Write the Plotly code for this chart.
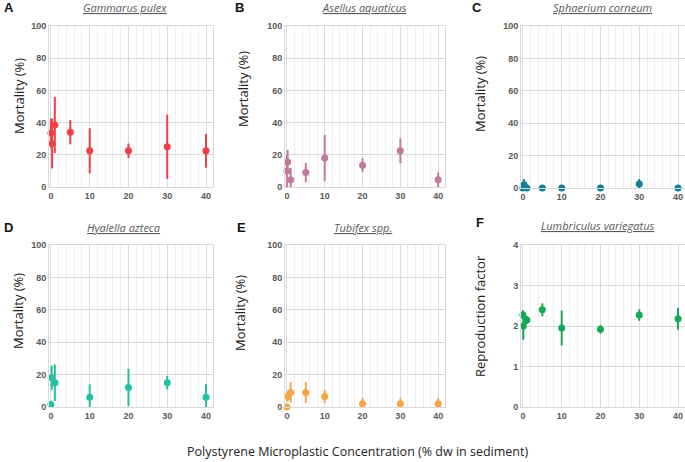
import plotly.graph_objects as go

# panel data: concentration (% dw), mean, error (upper / lower)
gp_x = [0, 0.3, 1, 5, 10, 20, 30, 40]
gp_y = [33.5, 27, 38.5, 34, 22.5, 22.5, 25, 22.5]
gp_e = [9, 15.5, 17.5, 7.5, 14, 4.5, 20, 10.5]

aa_x = [0, 0.2, 1, 5, 10, 20, 30, 40]
aa_y = [10, 15.5, 4.5, 9, 18, 13.5, 22.5, 4.5]
aa_e = [10, 7.5, 7.5, 6, 14.3, 4.3, 7.7, 4.5]

sc_x = [0, 0.3, 1, 5, 10, 20, 30, 40]
sc_y = [0, 2, 0, 0, 0, 0, 2.5, 0]
sc_e = [0, 3.5, 0, 0, 0, 0, 3, 0]

ha_x = [0, 0.2, 1, 10, 20, 30, 40]
ha_y = [1.5, 18, 15, 6, 12, 15, 6]
ha_e = [2.5, 7.5, 11.3, 8, 11.5, 4.2, 8]

tu_x = [0, 0.2, 1, 5, 10, 20, 30, 40]
tu_y = [0, 6.5, 9, 9, 6.5, 2, 2, 2]
tu_e = [0, 3.2, 6.3, 6.5, 4, 3.5, 3.5, 3.5]

lv_x = [0, 0.1, 1, 5, 10, 20, 30, 40]
lv_y = [2.27, 2.0, 2.15, 2.4, 1.95, 1.92, 2.27, 2.18]
lv_e = [0.12, 0.34, 0.1, 0.16, 0.43, 0.11, 0.14, 0.27]

panels = [
    ("A", "Gammarus pulex", gp_x, gp_y, gp_e, "#ef3f47", "Mortality (%)", 100, 20),
    ("B", "Asellus aquaticus", aa_x, aa_y, aa_e, "#c0799c", "Mortality (%)", 100, 20),
    ("C", "Sphaerium corneum", sc_x, sc_y, sc_e, "#117f95", "Mortality (%)", 100, 20),
    ("D", "Hyalella azteca", ha_x, ha_y, ha_e, "#22c1a2", "Mortality (%)", 100, 20),
    ("E", "Tubifex spp.", tu_x, tu_y, tu_e, "#f7a347", "Mortality (%)", 100, 20),
    ("F", "Lumbriculus variegatus", lv_x, lv_y, lv_e, "#16a955", "Reproduction factor", 4, 1),
]

W, H = 685, 462
# plot areas in pixels (left, right, top, bottom)
boxes = [(49, 213, 26, 187), (285, 445, 26, 187), (521, 685, 26, 188),
         (49, 213, 245, 407), (285, 445, 245, 407), (521, 685, 245, 407)]
ytitle_pos = [(19, 96), (243, 89), (480, 94), (18, 311), (240, 313), (480, 316)]
title_pos = [(125, 8), (364, 8), (602, 8), (123, 227), (363, 227), (597, 225)]
letter_pos = [(2, 8), (233, 8), (470, 8), (2, 227), (235, 227), (474, 223)]

fig = go.Figure()
annotations = []
grid = "#d9d9d9"
minor = "#eeeeee"
tickfont = dict(family="Liberation Sans", size=9, color="#595959", weight="bold")

for i, (letter, name, xs, ys, es, col, ylab, ymax, ydt) in enumerate(panels):
    n = i + 1
    xa = "x" if n == 1 else f"x{n}"
    ya = "y" if n == 1 else f"y{n}"
    emin = [min(e, y) for e, y in zip(es, ys)]
    fig.add_trace(go.Scatter(
        x=xs, y=ys, mode="markers", xaxis=xa, yaxis=ya, cliponaxis=False,
        marker=dict(color=col, size=7),
        error_y=dict(type="data", array=es, arrayminus=emin, color=col, thickness=2, width=0),
        showlegend=False,
    ))
    l, r, t, b = boxes[i]
    xkey = "xaxis" if n == 1 else f"xaxis{n}"
    ykey = "yaxis" if n == 1 else f"yaxis{n}"
    fig.layout[xkey] = dict(
        domain=[l / W, r / W], anchor=ya, range=[-0.5, 41.8], automargin=False,
        tick0=0, dtick=10, showgrid=True, gridcolor=grid, gridwidth=1,
        minor=dict(dtick=2, tick0=0, showgrid=True, gridcolor=minor, gridwidth=1),
        showline=True, linecolor=grid, mirror=True, zeroline=False,
        tickfont=tickfont, ticks="",
    )
    fig.layout[ykey] = dict(
        domain=[1 - b / H, 1 - t / H], anchor=xa, range=[0, ymax], dtick=ydt,
        automargin=False, showgrid=True, gridcolor=grid, gridwidth=1,
        showline=True, linecolor=grid, mirror=True, zeroline=False,
        tickfont=tickfont, ticks="",
    )
    tx, ty = title_pos[i]
    annotations.append(dict(
        x=tx / W, y=1 - ty / H, xref="paper", yref="paper", showarrow=False,
        text=f"<i><u>{name}</u></i>", xanchor="center", yanchor="middle",
        font=dict(family="Open Sans", size=11, color="#595959"),
    ))
    lx, ly = letter_pos[i]
    annotations.append(dict(
        x=lx / W, y=1 - ly / H, xref="paper", yref="paper", showarrow=False,
        text=f"<b>{letter}</b>", xanchor="left", yanchor="middle",
        font=dict(family="Liberation Sans", size=13, color="#111111"),
    ))
    yx, yy = ytitle_pos[i]
    annotations.append(dict(
        x=yx / W, y=1 - yy / H, xref="paper", yref="paper", showarrow=False,
        text=ylab, textangle=-90, xanchor="center", yanchor="middle",
        font=dict(family="Open Sans", size=13, color="#222222"),
    ))

annotations.append(dict(
    x=357 / W, y=1 - 451 / H, xref="paper", yref="paper", showarrow=False,
    text="Polystyrene Microplastic Concentration (% dw in sediment)",
    xanchor="center", yanchor="middle",
    font=dict(family="Open Sans", size=12.5, color="#222222"),
))

fig.update_layout(
    width=W, height=H, margin=dict(l=0, r=0, t=0, b=0, autoexpand=False),
    plot_bgcolor="white", paper_bgcolor="white",
    annotations=annotations,
)

# page body has a default 8px margin; drop it so the figure fills the window
fig.write_html("out.html", config={"displayModeBar": False},
               post_script="document.body.style.margin='0';")
